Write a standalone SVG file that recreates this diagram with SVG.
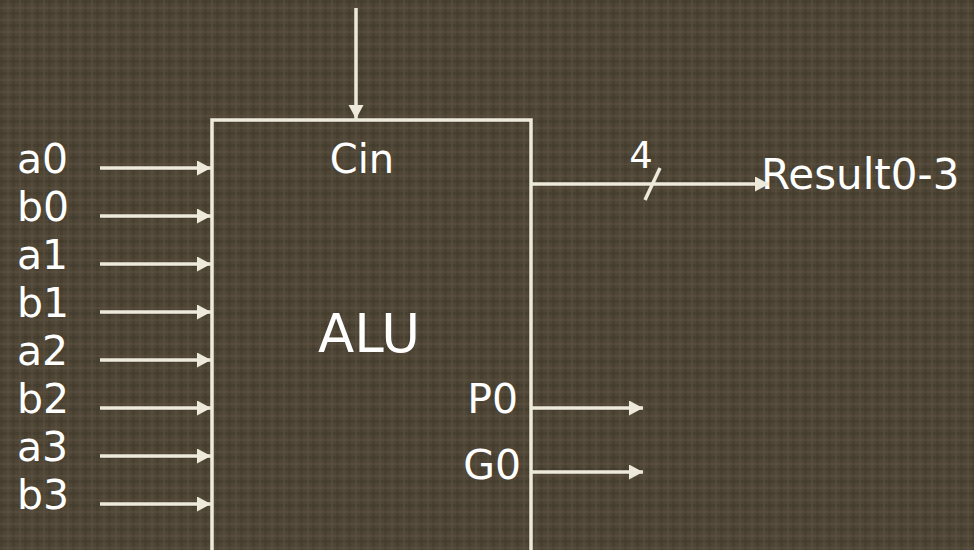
<svg xmlns="http://www.w3.org/2000/svg" width="974" height="550" viewBox="0 0 974 550">
<defs>
<pattern id="plaid" width="12" height="12" patternUnits="userSpaceOnUse">
<rect width="12" height="12" fill="#4f4636"/>
<rect x="0" y="0" width="12" height="3" fill="#3f3829" opacity="0.45"/>
<rect x="0" y="0" width="3" height="12" fill="#3f3829" opacity="0.4"/>
<rect x="0" y="7" width="12" height="2" fill="#5e5545" opacity="0.45"/>
<rect x="7" y="0" width="2" height="12" fill="#5e5545" opacity="0.45"/>
</pattern>
<marker id="ah" markerUnits="userSpaceOnUse" markerWidth="16" markerHeight="16" refX="14" refY="7.5" orient="auto">
<path d="M0,0 L14,7.5 L0,15 z" fill="#eeeadb"/>
</marker>
<style>
.w{stroke:#eeeadb;stroke-width:3.5;fill:none}
.t{font-family:"DejaVu Sans",sans-serif;fill:#ffffff;font-size:41px}
</style>
</defs>
<rect width="974" height="550" fill="url(#plaid)"/>
<g id="alu">
<rect class="w" x="212" y="120" width="319" height="460"/>
<text class="t" x="362" y="173" text-anchor="middle" style="font-size:40px">Cin</text>
<text class="t" x="369" y="352" text-anchor="middle" style="font-size:53px">ALU</text>
<text class="t" x="518" y="413" text-anchor="end">P0</text>
<text class="t" x="521" y="479" text-anchor="end">G0</text>
</g>
<g id="inputs">
<text class="t" x="17" y="173">a0</text>
<text class="t" x="17" y="221">b0</text>
<text class="t" x="17" y="269">a1</text>
<text class="t" x="17" y="317">b1</text>
<text class="t" x="17" y="365">a2</text>
<text class="t" x="17" y="413">b2</text>
<text class="t" x="17" y="461">a3</text>
<text class="t" x="17" y="509">b3</text>
</g>
<g id="result">
<text class="t" x="641" y="168" text-anchor="middle" style="font-size:37px">4</text>
<text class="t" x="761" y="189" style="font-size:42px">Result0-3</text>
</g>
<g id="connectors">
<line class="w" x1="356" y1="8" x2="356" y2="119" marker-end="url(#ah)"/>
<line class="w" x1="100" y1="168" x2="211" y2="168" marker-end="url(#ah)"/>
<line class="w" x1="100" y1="216" x2="211" y2="216" marker-end="url(#ah)"/>
<line class="w" x1="100" y1="264" x2="211" y2="264" marker-end="url(#ah)"/>
<line class="w" x1="100" y1="312" x2="211" y2="312" marker-end="url(#ah)"/>
<line class="w" x1="100" y1="360" x2="211" y2="360" marker-end="url(#ah)"/>
<line class="w" x1="100" y1="408" x2="211" y2="408" marker-end="url(#ah)"/>
<line class="w" x1="100" y1="456" x2="211" y2="456" marker-end="url(#ah)"/>
<line class="w" x1="100" y1="504" x2="211" y2="504" marker-end="url(#ah)"/>
<line class="w" x1="531" y1="184" x2="769" y2="184" marker-end="url(#ah)"/>
<line class="w" x1="645" y1="200" x2="660" y2="168"/>
<line class="w" x1="531" y1="408" x2="643" y2="408" marker-end="url(#ah)"/>
<line class="w" x1="531" y1="472" x2="643" y2="472" marker-end="url(#ah)"/>
</g>
</svg>
